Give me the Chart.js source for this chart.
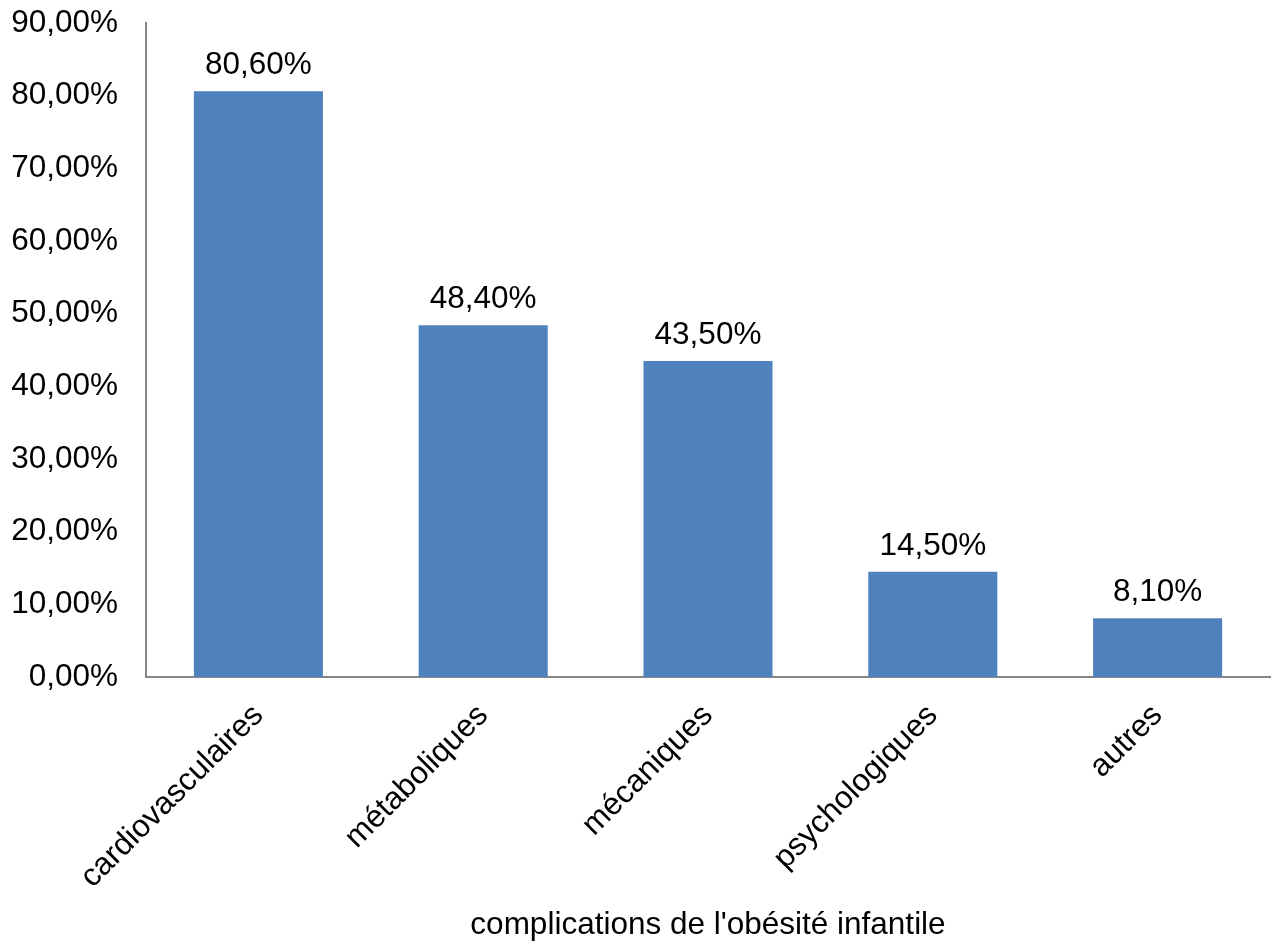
<!DOCTYPE html>
<html>
<head>
<meta charset="utf-8">
<script src="https://cdn.jsdelivr.net/npm/chart.js@4/dist/chart.umd.min.js"></script>
<style>
  html, body { margin: 0; padding: 0; background: #fff; }
  #wrap { width: 1274px; height: 944px; }
</style>
</head>
<body>
<div id="wrap"><canvas id="complicationsChart" width="1274" height="944"></canvas></div>
<script>
// complications de l'obésité infantile (en %)
var categories = ['cardiovasculaires', 'métaboliques', 'mécaniques', 'psychologiques', 'autres'];
var pourcentages = [80.6, 48.4, 43.5, 14.5, 8.1];
var yTicks = [0, 10, 20, 30, 40, 50, 60, 70, 80, 90];

var police = "'Liberation Sans', Arial, sans-serif";
var taille = 31.5;

function formatPct(v) {
    return v.toFixed(2).replace('.', ',') + '%';
}

// valeurs au-dessus des barres
var etiquettesValeurs = {
    id: 'etiquettesValeurs',
    afterDatasetsDraw: function(chart) {
        var ctx = chart.ctx;
        var meta = chart.getDatasetMeta(0);
        ctx.save();
        ctx.font = taille + 'px ' + police;
        ctx.fillStyle = '#000';
        ctx.textAlign = 'center';
        ctx.textBaseline = 'alphabetic';
        meta.data.forEach(function(bar, i) {
            ctx.fillText(formatPct(pourcentages[i]), bar.x, bar.y - 17);
        });
        ctx.restore();
    }
};

var ctx = document.getElementById('complicationsChart').getContext('2d');
var chart = new Chart(ctx, {
    type: 'bar',
    data: {
        labels: categories,
        datasets: [{
            data: pourcentages,
            backgroundColor: '#4F81BD',
            borderWidth: 0,
            categoryPercentage: 1,
            barPercentage: 0.574
        }]
    },
    options: {
        responsive: false,
        animation: false,
        layout: { padding: { top: 23, right: 4, bottom: 0, left: 9 } },
        plugins: {
            legend: { display: false },
            tooltip: { enabled: false }
        },
        scales: {
            x: {
                afterFit: function(axis) {
                    axis.paddingLeft = 0;
                    axis.paddingRight = 0;
                    axis.height = 267;
                },
                grid: { display: false, drawTicks: false },
                border: { display: true, color: '#868686', width: 2 },
                ticks: {
                    color: '#000',
                    font: { family: police, size: taille },
                    minRotation: 45,
                    maxRotation: 45,
                    padding: 20
                },
                title: {
                    display: true,
                    text: "complications de l'obésité infantile",
                    color: '#000',
                    font: { family: police, size: taille },
                    padding: { top: 8, bottom: 0 }
                }
            },
            y: {
                min: 0,
                max: 90,
                afterBuildTicks: function(axis) {
                    axis.ticks = yTicks.map(function(v) { return { value: v }; });
                },
                afterFit: function(axis) {
                    axis.paddingTop = 0;
                    axis.paddingBottom = 0;
                    axis.width = 137;
                },
                grid: { display: false, drawTicks: false },
                border: { display: true, color: '#868686', width: 2 },
                ticks: {
                    color: '#000',
                    font: { family: police, size: taille },
                    padding: 28,
                    callback: function(v) { return formatPct(v); }
                }
            }
        }
    },
    plugins: [etiquettesValeurs]
});
</script>
</body>
</html>
